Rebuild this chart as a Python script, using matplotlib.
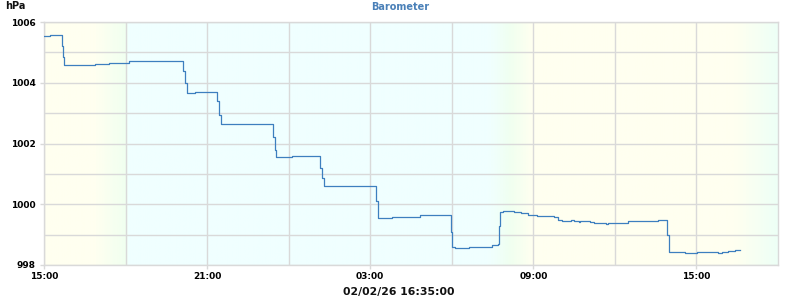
import numpy as np
import matplotlib
matplotlib.use("Agg")
import matplotlib.pyplot as plt
from matplotlib.colors import LinearSegmentedColormap

# --- data: hours since 15:00, pressure in hPa (step values) ---
hours = [0.00, 0.22, 0.65, 0.70, 0.74, 1.88, 2.39, 2.80, 3.13, 3.71,
         4.23, 5.11, 5.18, 5.26, 5.55, 6.35, 6.44, 6.51, 7.13, 8.43,
         8.49, 8.53, 9.12, 10.15, 10.22, 10.29, 12.20, 12.27, 12.79, 13.83,
         14.96, 15.01, 15.12, 15.63, 16.48, 16.69, 16.73, 16.77, 16.88, 17.29,
         17.54, 17.80, 18.13, 18.76, 18.90, 19.05, 19.38, 19.49, 19.67, 19.71,
         20.08, 20.23, 20.67, 20.74, 21.48, 22.58, 22.91, 22.99, 23.57, 24.02,
         24.38, 24.79, 24.94, 25.16, 25.41, 25.60]
pressure = [1005.55, 1005.58, 1005.20, 1004.85, 1004.58, 1004.61, 1004.64, 1004.66, 1004.70, 1004.73,
            1004.70, 1004.40, 1004.00, 1003.65, 1003.68, 1003.40, 1002.95, 1002.65, 1002.63, 1002.20,
            1001.80, 1001.56, 1001.59, 1001.20, 1000.85, 1000.60, 1000.10, 999.54, 999.58, 999.63,
            999.10, 998.60, 998.55, 998.58, 998.65, 998.70, 999.30, 999.73, 999.78, 999.74,
            999.71, 999.65, 999.62, 999.57, 999.49, 999.45, 999.48, 999.45, 999.42, 999.45,
            999.41, 999.38, 999.35, 999.38, 999.45, 999.48, 999.00, 998.43, 998.40, 998.43,
            998.42, 998.40, 998.43, 998.46, 998.51, 998.51]

tick_hours = [0, 6, 12, 18, 24]
tick_labels = ["15:00", "21:00", "03:00", "09:00", "15:00"]
y_ticks = [998, 1000, 1002, 1004, 1006]

# background day / night shading (position along 0..27 h, colour)
bg_stops = [(0.0, "#fffff0"), (1.8, "#fffff0"), (3.0, "#f0fff0"), (3.01, "#f0ffff"),
            (16.4, "#f0ffff"), (17.2, "#f0fff0"), (18.0, "#fffff0"),
            (25.5, "#fffff0"), (27.0, "#eefff6")]

line_col = "#3d7fbf"
grid_col = "#d9d9d9"

fig = plt.figure(figsize=(8, 3), dpi=100)
ax = fig.add_axes([44 / 800, 1 - 265 / 300, 734 / 800, 243 / 300])

cmap = LinearSegmentedColormap.from_list(
    "bg", [(p / 27.0, c) for p, c in bg_stops])
ax.imshow(np.linspace(0, 1, 800).reshape(1, -1), cmap=cmap, aspect="auto",
          extent=[0, 27, 998, 1006], zorder=0)

ax.plot(hours, pressure, drawstyle="steps-post", color=line_col, lw=0.9, zorder=3)

ax.set_xlim(0, 27)
ax.set_ylim(998, 1006)
ax.set_xticks(tick_hours)
ax.set_xticklabels(tick_labels)
ax.set_xticks(np.arange(3, 27, 6), minor=True)
ax.set_yticks(y_ticks)
ax.set_yticks(np.arange(999, 1006, 2), minor=True)
ax.grid(True, which="both", color=grid_col, lw=1.0, zorder=1)
ax.set_axisbelow(False)
for s in ax.spines.values():
    s.set_color(grid_col)
    s.set_linewidth(1.0)
ax.tick_params(which="both", length=3, color=grid_col, width=1.0)
ax.tick_params(which="minor", length=0)
for lab in ax.get_xticklabels() + ax.get_yticklabels():
    lab.set_fontsize(6.5)
    lab.set_fontweight("bold")
ax.tick_params(axis="x", pad=2)
ax.tick_params(axis="y", pad=3)

fig.text(400 / 800, 1 - 7 / 300, "Barometer", ha="center", va="center",
         fontsize=7, fontweight="bold", color="#4a80b8")
fig.text(15 / 800, 1 - 6 / 300, "hPa", ha="center", va="center",
         fontsize=7, fontweight="bold", color="#111111")
fig.text(399 / 800, 1 - 292 / 300, "02/02/26 16:35:00", ha="center", va="center",
         fontsize=7.8, fontweight="bold", color="#111111")

fig.savefig("out.png", dpi=100)
